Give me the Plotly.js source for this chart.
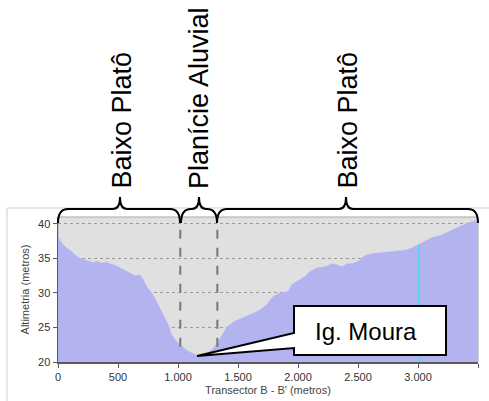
<!DOCTYPE html>
<html>
<head>
<meta charset="utf-8">
<script src="https://cdn.plot.ly/plotly-3.0.1.min.js"></script>
<style>html,body{margin:0;padding:0;background:#fff;}#chart{width:489px;height:401px;}</style>
</head>
<body>
<div id="chart"></div>
<script>
// Transect distance (m) and altitude (m)
const distancia = [0, 8, 31, 72, 100, 128, 156, 197, 253, 294, 322, 364, 406, 433, 475, 517, 558, 600, 642, 683, 711, 739, 781, 808, 836, 878, 919, 947, 989, 1031, 1072, 1114, 1161, 1200, 1250, 1294, 1336, 1378, 1406, 1461, 1531, 1600, 1683, 1739, 1794, 1850, 1919, 1947, 2017, 2058, 2100, 2156, 2225, 2281, 2322, 2364, 2406, 2461, 2517, 2545, 2586, 2642, 2725, 2808, 2892, 2947, 3003, 3058, 3114, 3183, 3253, 3308, 3364, 3433, 3489, 3500];
const altimetria = [38.0, 37.9, 37.2, 36.5, 36.2, 35.75, 35.3, 34.9, 34.6, 34.4, 34.6, 34.3, 34.5, 34.2, 34.0, 33.6, 33.2, 32.85, 32.5, 32.6, 31.9, 30.9, 30.0, 29.2, 28.3, 26.8, 25.4, 23.9, 22.95, 22.3, 21.7, 21.3, 20.9, 21.0, 21.3, 22.0, 22.95, 24.2, 25.0, 25.8, 26.3, 26.8, 27.5, 28.3, 29.5, 30.0, 30.2, 31.2, 31.9, 32.4, 33.1, 33.6, 33.8, 34.2, 34.1, 33.8, 34.2, 34.3, 34.7, 35.3, 35.55, 35.75, 35.9, 36.0, 36.2, 36.5, 37.0, 37.6, 38.0, 38.3, 38.8, 39.3, 39.75, 40.25, 40.5, 40.6];
// Cyan marker line
const marcadorX = [3008, 3008];
const marcadorY = [20, 37.0];
// Unit boundaries (dashed)
const limites = [1019, 1328];
const limiteTopo = 40.3;
const limiteBase = 22.2;
// Labels
const unidades = ["Baixo Platô", "Planície Aluvial", "Baixo Platô"];
const rotuloIgarape = "Ig. Moura";
const xTicks = [0, 500, 1000, 1500, 2000, 2500, 3000, 3500];
const yTicks = [20, 25, 30, 35, 40];

// pixel -> paper helpers (plot area: x 58..478, y 217..362)
const L = 58, R = 478, T = 217, B = 362;
const px = p => (p - L) / (R - L);
const py = p => (B - p) / (B - T);

function brace(x0, x1, xm, yEnd, yh, yt, r) {
  return `M ${px(x0)},${py(yEnd)} Q ${px(x0)},${py(yh)} ${px(x0 + r)},${py(yh)} ` +
         `L ${px(xm - 7)},${py(yh)} Q ${px(xm)},${py(yh)} ${px(xm)},${py(yt)} ` +
         `Q ${px(xm)},${py(yh)} ${px(xm + 7)},${py(yh)} ` +
         `L ${px(x1 - r)},${py(yh)} Q ${px(x1)},${py(yh)} ${px(x1)},${py(yEnd)}`;
}

const traces = [
  {
    x: distancia, y: altimetria, type: 'scatter', mode: 'lines',
    fill: 'tozeroy', fillcolor: '#b3b3f0',
    line: {color: '#b3b3f0', width: 0.5, shape: 'linear'},
    hoverinfo: 'skip', showlegend: false
  },
  {
    x: marcadorX, y: marcadorY, type: 'scatter', mode: 'lines',
    line: {color: '#5fd3f3', width: 2}, showlegend: false, hoverinfo: 'skip'
  }
];

const shapes = [];
limites.forEach(v => shapes.push({
  type: 'line', xref: 'x', yref: 'y', x0: v, x1: v, y0: limiteBase, y1: limiteTopo,
  line: {color: '#777777', width: 2, dash: 'dash'}
}));
// plot border (thin)
shapes.push({type: 'rect', xref: 'paper', yref: 'paper', x0: 0, x1: 1, y0: 0, y1: 1,
  line: {color: '#a8a8a8', width: 1}, layer: 'below'});
// outer frame
shapes.push({type: 'path', xref: 'paper', yref: 'paper',
  path: `M ${px(7)},${py(405)} L ${px(7)},${py(208)} L ${px(492)},${py(208)}`,
  line: {color: '#cfcfcf', width: 1}});
// braces
const braceSpec = [[58, 180, 120], [181, 217, 199], [217, 478, 346]];
braceSpec.forEach(b => shapes.push({
  type: 'path', xref: 'paper', yref: 'paper',
  path: brace(b[0], b[1], b[2], 223, 209, 197, 10),
  line: {color: '#000000', width: 2}
}));
// callout
shapes.push({
  type: 'path', xref: 'paper', yref: 'paper',
  path: `M ${px(294)},${py(306)} L ${px(446)},${py(306)} L ${px(446)},${py(355)} L ${px(294)},${py(355)} L ${px(294)},${py(348)} L ${px(197)},${py(356)} L ${px(294)},${py(333)} Z`,
  fillcolor: '#ffffff', line: {color: '#000000', width: 2}
});

const labelX = [121, 199, 347];
const annotations = unidades.map((t, i) => ({
  text: t, xref: 'paper', yref: 'paper', x: px(labelX[i]), y: py(191),
  xanchor: 'center', yanchor: 'bottom', textangle: -90, showarrow: false,
  font: {family: 'Liberation Sans, Arial, sans-serif', size: 27, color: '#000'}
}));
annotations.push({
  text: rotuloIgarape, xref: 'paper', yref: 'paper', x: px(366), y: py(331),
  xanchor: 'center', yanchor: 'middle', showarrow: false,
  font: {family: 'Liberation Sans, Arial, sans-serif', size: 24, color: '#000'}
});

const layout = {
  width: 489, height: 401,
  margin: {l: L, r: 489 - R, t: T, b: 401 - B, pad: 0},
  paper_bgcolor: '#ffffff', plot_bgcolor: '#e0e0e0',
  separators: ',.',
  font: {family: 'Liberation Sans, Arial, sans-serif', size: 11, color: '#333'},
  xaxis: {
    range: [0, 3500], tickvals: xTicks, tickformat: ',d',
    showgrid: false, zeroline: false,
    showline: true, linecolor: '#5a5a5a', linewidth: 2,
    ticks: 'outside', ticklen: 4, tickcolor: '#5a5a5a',
    tickfont: {size: 11, color: '#333'},
    title: {text: "Transector B - B' (metros)", font: {size: 11, color: '#444'}, standoff: 4}
  },
  yaxis: {
    range: [20, 41], tickvals: yTicks,
    showgrid: true, gridcolor: '#9a9a9a', griddash: 'dot', gridwidth: 1,
    zeroline: false, showline: true, linecolor: '#5a5a5a', linewidth: 1.5,
    ticks: 'outside', ticklen: 4, tickcolor: '#5a5a5a',
    tickfont: {size: 11, color: '#333'},
    title: {text: 'Altimetria (metros)', font: {size: 11, color: '#444'}, standoff: 6}
  },
  shapes: shapes,
  annotations: annotations,
  showlegend: false
};

Plotly.newPlot('chart', traces, layout, {displayModeBar: false, staticPlot: true});
</script>
</body>
</html>
